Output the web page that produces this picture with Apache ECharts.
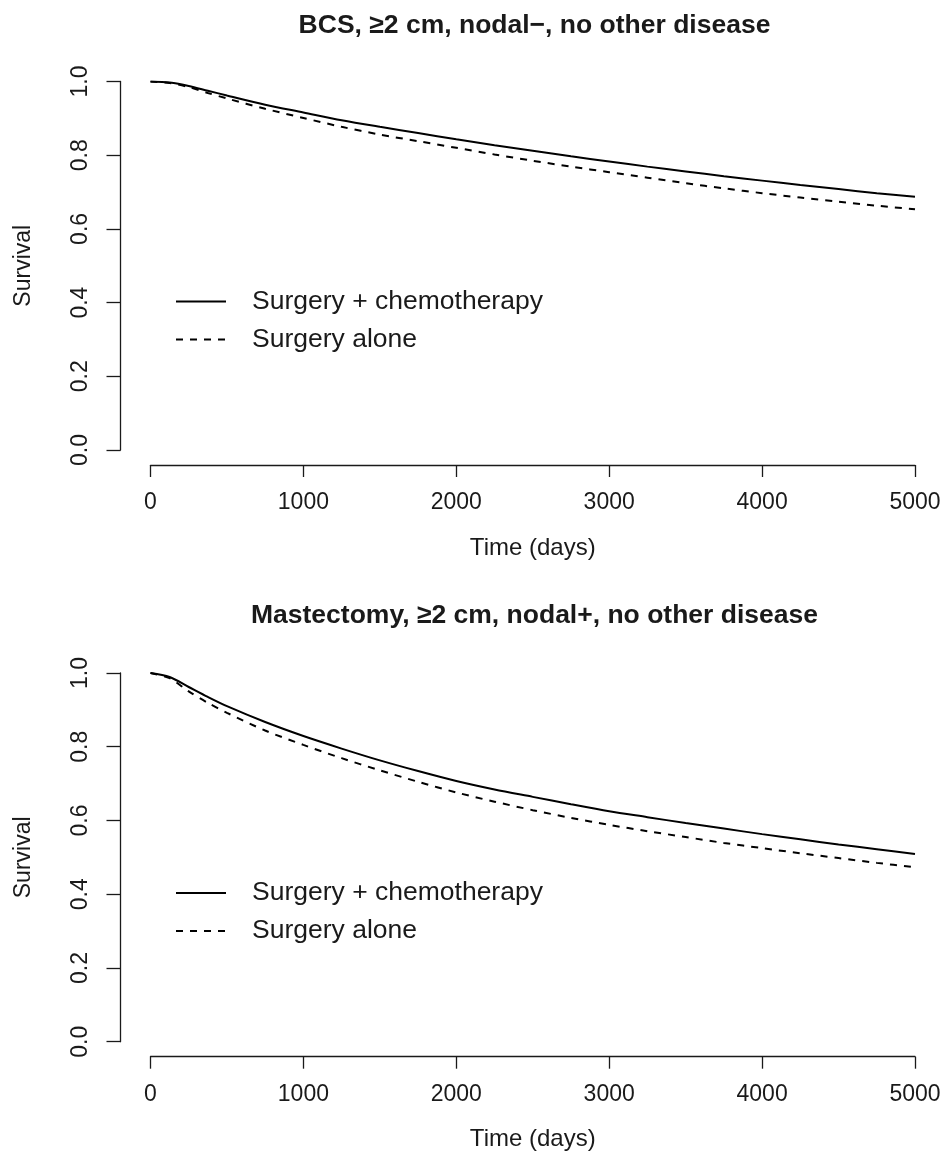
<!DOCTYPE html>
<html>
<head>
<meta charset="utf-8">
<title>Survival curves</title>
<script src="https://cdn.jsdelivr.net/npm/echarts@6/dist/echarts.min.js"></script>
<style>
  html, body { margin: 0; padding: 0; background: #fff; }
  #chart { width: 946px; height: 1157px; }
</style>
</head>
<body>
<div id="chart"></div>
<script>
// Follow-up times (days)
const times = [0, 125, 250, 375, 500, 750, 1000, 1250, 1500, 1750, 2000, 2250, 2500,
               2750, 3000, 3250, 3500, 3750, 4000, 4250, 4500, 4750, 5000];

// BCS, >=2 cm, node-negative
const bcsChemo = [1.000, 0.997, 0.988, 0.975, 0.962, 0.937, 0.916, 0.895, 0.877, 0.860, 0.843, 0.827, 0.812,
                  0.797, 0.783, 0.769, 0.756, 0.743, 0.731, 0.719, 0.708, 0.697, 0.687];
const bcsAlone = [1.000, 0.996, 0.985, 0.969, 0.954, 0.926, 0.901, 0.877, 0.856, 0.838, 0.820, 0.802, 0.785,
                  0.769, 0.754, 0.739, 0.724, 0.710, 0.697, 0.685, 0.674, 0.663, 0.653];

// Mastectomy, >=2 cm, node-positive
const mastChemo = [1.000, 0.989, 0.962, 0.935, 0.910, 0.867, 0.829, 0.795, 0.763, 0.734, 0.707, 0.684, 0.664,
                   0.644, 0.625, 0.609, 0.593, 0.578, 0.563, 0.549, 0.535, 0.522, 0.509];
const mastAlone = [1.000, 0.986, 0.950, 0.919, 0.892, 0.844, 0.805, 0.769, 0.736, 0.705, 0.676, 0.651, 0.628,
                   0.607, 0.588, 0.571, 0.555, 0.539, 0.525, 0.511, 0.498, 0.485, 0.473];

const titles = ['BCS, \u22652 cm, nodal\u2212, no other disease', 'Mastectomy, \u22652 cm, nodal+, no other disease'];
const seriesNames = ['Surgery + chemotherapy', 'Surgery alone'];
const xTicks = [0, 1000, 2000, 3000, 4000, 5000];
const yTicks = [0, 0.2, 0.4, 0.6, 0.8, 1.0];

const FONT = 'Liberation Sans, Arial, sans-serif';
const INK = '#1a1a1a';

function pairs(xs, ys) { return xs.map((x, i) => [x, ys[i]]); }

const grids = [
  { left: 150.5, top: 81.5, width: 764.5, height: 368.5 },
  { left: 150.5, top: 673, width: 764.5, height: 368.7 }
];

function xAxisFor(i) {
  return {
    type: 'value', gridIndex: i,
    min: xTicks[0], max: xTicks[xTicks.length - 1], interval: 1000,
    offset: 15,
    name: 'Time (days)', nameLocation: 'middle', nameGap: 71,
    nameTextStyle: { fontFamily: FONT, fontSize: 24, color: INK },
    axisLine: { show: true, onZero: false, lineStyle: { color: INK, width: 1.3 } },
    axisTick: { show: true, length: 12, lineStyle: { color: INK, width: 1.3 } },
    axisLabel: { fontFamily: FONT, fontSize: 23, color: INK, margin: 26, formatter: v => String(v) },
    splitLine: { show: false }
  };
}

function yAxisFor(i) {
  return {
    type: 'value', gridIndex: i,
    min: yTicks[0], max: yTicks[yTicks.length - 1], interval: 0.2,
    offset: 30,
    name: 'Survival', nameLocation: 'middle', nameGap: 85, nameRotate: 90,
    nameTextStyle: { fontFamily: FONT, fontSize: 23, color: INK },
    axisLine: { show: true, onZero: false, lineStyle: { color: INK, width: 1.3 } },
    axisTick: { show: true, length: 14, lineStyle: { color: INK, width: 1.3 } },
    axisLabel: {
      fontFamily: FONT, fontSize: 23, color: INK, margin: 28, rotate: 90,
      formatter: v => v.toFixed(1)
    },
    splitLine: { show: false }
  };
}

function lineSeries(name, grid, xs, ys, dashed) {
  return {
    type: 'line', name: name,
    xAxisIndex: grid, yAxisIndex: grid,
    data: pairs(xs, ys),
    smooth: 0.3,
    symbol: 'none', silent: true,
    itemStyle: { color: '#000' },
    lineStyle: { color: '#000', width: 2, type: dashed ? [7, 7] : 'solid' }
  };
}

function legendFor(i, topPx) {
  return {
    orient: 'vertical', left: 175, top: topPx, padding: 0,
    itemWidth: 50, itemHeight: 14, itemGap: 11,
    data: seriesNames,
    selectedMode: false,
    itemStyle: { opacity: 0 },
    textStyle: { fontFamily: FONT, fontSize: 26.5, color: INK, padding: [0, 0, 0, 21] }
  };
}

const option = {
  backgroundColor: '#fff',
  animation: false,
  title: titles.map((t, i) => ({
    text: t,
    left: 529.5, top: i === 0 ? 7 : 597,
    textAlign: 'center',
    textStyle: { fontFamily: FONT, fontSize: 26.5, fontWeight: 'bold', color: INK }
  })),
  legend: [legendFor(0, 288), legendFor(1, 879.5)],
  grid: grids.map(g => Object.assign({ outerBoundsMode: 'none' }, g)),
  xAxis: [xAxisFor(0), xAxisFor(1)],
  yAxis: [yAxisFor(0), yAxisFor(1)],
  series: [
    lineSeries(seriesNames[0], 0, times, bcsChemo, false),
    lineSeries(seriesNames[1], 0, times, bcsAlone, true),
    lineSeries(seriesNames[0], 1, times, mastChemo, false),
    lineSeries(seriesNames[1], 1, times, mastAlone, true)
  ]
};

const chart = echarts.init(document.getElementById('chart'), null, { renderer: 'canvas' });
chart.setOption(option);
</script>
</body>
</html>
